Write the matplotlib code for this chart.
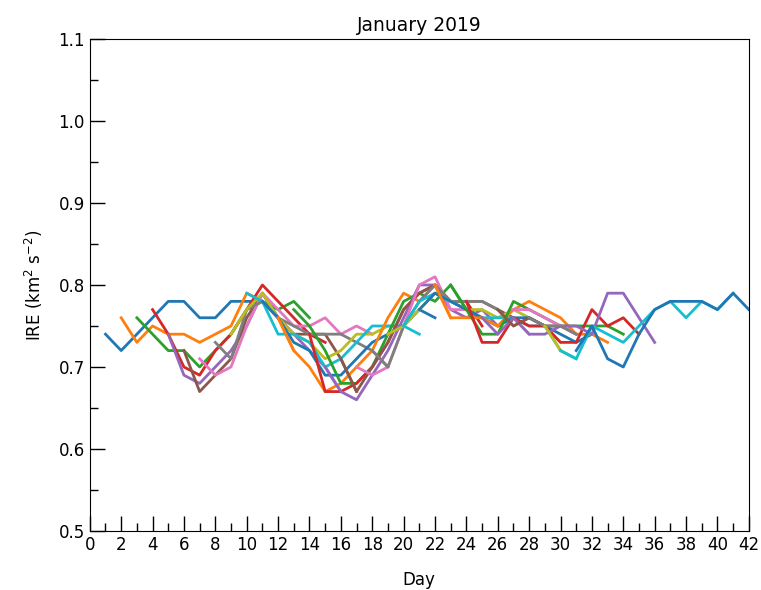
import matplotlib
matplotlib.use("Agg")
import matplotlib.pyplot as plt
from matplotlib.ticker import MultipleLocator

# start day of each forecast-like series
start_days = [1, 2, 3, 4, 5, 6, 7, 8, 9, 10, 11, 12, 13, 14, 15, 16,
              17, 18, 19, 20, 21, 22, 23, 24, 25, 26, 27, 28, 29, 30, 31]

s01 = [0.74, 0.72, 0.74, 0.76, 0.78, 0.78, 0.76, 0.76, 0.78, 0.78, 0.78, 0.76]
s02 = [0.76, 0.73, 0.75, 0.74, 0.74, 0.73, 0.74, 0.75, 0.79, 0.78, 0.76, 0.72]
s03 = [0.76, 0.74, 0.72, 0.72, 0.70, 0.72, 0.74, 0.77, 0.78, 0.77, 0.78, 0.76]
s04 = [0.77, 0.74, 0.70, 0.69, 0.72, 0.74, 0.77, 0.80, 0.78, 0.76, 0.74, 0.73]
s05 = [0.74, 0.69, 0.68, 0.70, 0.72, 0.75, 0.79, 0.76, 0.74, 0.72, 0.70, 0.67]
s06 = [0.72, 0.67, 0.69, 0.71, 0.76, 0.79, 0.76, 0.74, 0.74, 0.74, 0.71, 0.67]
s07 = [0.71, 0.69, 0.70, 0.75, 0.79, 0.77, 0.75, 0.75, 0.76, 0.74, 0.75, 0.74]
s08 = [0.73, 0.71, 0.77, 0.78, 0.76, 0.75, 0.74, 0.74, 0.74, 0.73, 0.72, 0.70]
s09 = [0.74, 0.77, 0.79, 0.76, 0.74, 0.73, 0.71, 0.72, 0.74, 0.74, 0.75, 0.75]
s10 = [0.79, 0.78, 0.74, 0.74, 0.73, 0.70, 0.71, 0.73, 0.75, 0.75, 0.75, 0.74]
s11 = [0.78, 0.76, 0.73, 0.72, 0.69, 0.69, 0.71, 0.73, 0.74, 0.75, 0.77, 0.76]
s12 = [0.76, 0.72, 0.70, 0.67, 0.68, 0.70, 0.72, 0.76, 0.79, 0.78, 0.80, 0.76]
s13 = [0.77, 0.75, 0.72, 0.68, 0.68, 0.70, 0.74, 0.78, 0.79, 0.78, 0.80, 0.77]
s14 = [0.74, 0.67, 0.67, 0.68, 0.70, 0.73, 0.77, 0.79, 0.80, 0.78, 0.78, 0.75]
s15 = [0.70, 0.67, 0.66, 0.69, 0.72, 0.76, 0.80, 0.80, 0.77, 0.76, 0.77, 0.75]
s16 = [0.71, 0.67, 0.70, 0.73, 0.77, 0.79, 0.80, 0.78, 0.78, 0.78, 0.77, 0.76]
s17 = [0.70, 0.69, 0.70, 0.75, 0.80, 0.81, 0.77, 0.77, 0.76, 0.75, 0.76, 0.74]
s18 = [0.72, 0.70, 0.75, 0.78, 0.80, 0.78, 0.78, 0.78, 0.77, 0.75, 0.76, 0.75]
s19 = [0.74, 0.75, 0.77, 0.79, 0.78, 0.77, 0.77, 0.76, 0.77, 0.76, 0.75, 0.73]
s20 = [0.75, 0.78, 0.79, 0.78, 0.77, 0.76, 0.76, 0.76, 0.75, 0.75, 0.72, 0.71]
s21 = [0.77, 0.79, 0.78, 0.77, 0.76, 0.75, 0.76, 0.76, 0.75, 0.74, 0.73, 0.74]
s22 = [0.80, 0.76, 0.76, 0.76, 0.75, 0.77, 0.78, 0.77, 0.76, 0.74, 0.74, 0.73]
s23 = [0.80, 0.77, 0.74, 0.74, 0.78, 0.77, 0.76, 0.75, 0.75, 0.75, 0.75, 0.74]
s24 = [0.78, 0.73, 0.73, 0.76, 0.75, 0.75, 0.73, 0.73, 0.77, 0.75, 0.76, 0.74]
s25 = [0.76, 0.74, 0.76, 0.74, 0.74, 0.75, 0.75, 0.74, 0.79, 0.79, 0.76, 0.73]
s26 = [0.77, 0.75, 0.76, 0.75, 0.75, 0.74]
s27 = [0.77, 0.77, 0.76, 0.75, 0.74]
s28 = [0.76, 0.75, 0.75, 0.74]
s29 = [0.75, 0.72]
s30 = [0.72, 0.71, 0.75, 0.74, 0.73, 0.75, 0.77, 0.78, 0.76, 0.78, 0.77, 0.79]
s31 = [0.72, 0.75, 0.71, 0.70, 0.74, 0.77, 0.78, 0.78, 0.78, 0.77, 0.79, 0.77]

series = [s01, s02, s03, s04, s05, s06, s07, s08, s09, s10, s11, s12, s13, s14,
          s15, s16, s17, s18, s19, s20, s21, s22, s23, s24, s25, s26, s27, s28,
          s29, s30, s31]

fig = plt.figure(figsize=(7.61, 5.90), dpi=100)
ax = fig.add_axes([0.118, 0.1, 0.866, 0.834])

for start, vals in zip(start_days, series):
    days = list(range(start, start + len(vals)))
    ax.plot(days, vals, lw=2.0)

ax.set_xlim(0, 42)
ax.set_ylim(0.5, 1.1)
ax.xaxis.set_major_locator(MultipleLocator(2))
ax.xaxis.set_minor_locator(MultipleLocator(1))
ax.yaxis.set_major_locator(MultipleLocator(0.1))
ax.yaxis.set_minor_locator(MultipleLocator(0.05))
ax.tick_params(which='both', direction='in', top=False, right=False, labelsize=12)
ax.tick_params(which='major', length=11, width=1)
ax.tick_params(which='minor', length=6, width=1)
ax.set_yticks([0.5, 0.6, 0.7, 0.8, 0.9, 1.0, 1.1])
ax.set_yticklabels(['0.5', '0.6', '0.7', '0.8', '0.9', '1.0', '1.1'])
ax.set_xlabel('Day', fontsize=12, labelpad=12)
ax.set_ylabel('IRE (km$^2$ s$^{-2}$)', fontsize=12, labelpad=10)
ax.set_title('January 2019', fontsize=13.5)

fig.savefig('out.png', dpi=100)
